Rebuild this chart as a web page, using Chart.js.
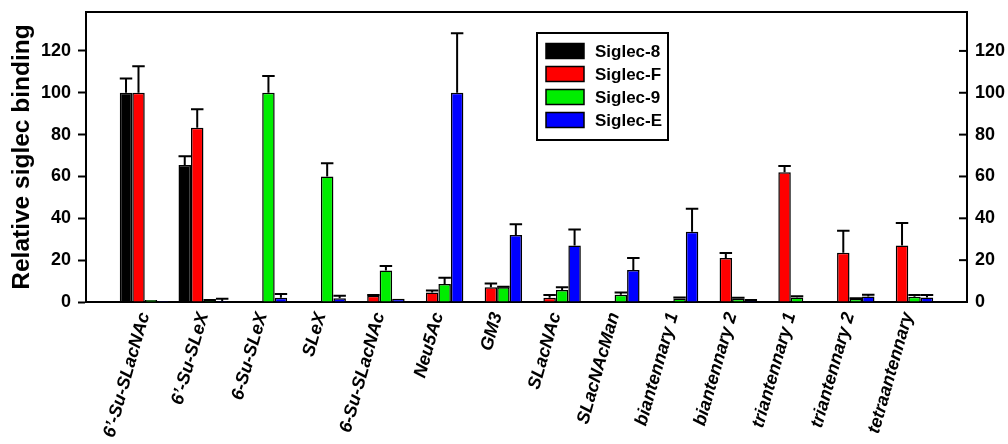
<!DOCTYPE html>
<html lang="en">
<head>
    <meta charset="UTF-8">
    <script src="https://cdn.jsdelivr.net/npm/chart.js"></script>
    <style>
        html, body { margin: 0; padding: 0; background: #ffffff; }
        #wrap { width: 1008px; height: 444px; }
    </style>
    <title>Siglec binding</title>
</head>
<body>

<div id="wrap"><canvas id="myChart"></canvas></div>

<script>

    // glycans on the x axis
    const glycans = ['6’-Su-SLacNAc', '6’-Su-SLeX', '6-Su-SLeX', 'SLeX', '6-Su-SLacNAc', 'Neu5Ac', 'GM3',
        'SLacNAc', 'SLacNAcMan', 'biantennary 1', 'biantennary 2', 'triantennary 1', 'triantennary 2', 'tetraantennary'];

    const seriesNames = ['Siglec-8', 'Siglec-F', 'Siglec-9', 'Siglec-E'];
    const seriesColors = ['#000000', '#ff0000', '#00ee00', '#0000ff'];

    // relative binding (bar height) and upper error (sd)
    const siglec8 = [100, 65.5, 0.3, 0.3, 0.3, 0, 0.5, 0.3, 0, 0, 0, 0, 0, 0];
    const siglec8Err = [6.8, 4.1, 0, 0, 0, 0, 0, 0, 0, 0, 0, 0, 0, 0];
    const siglecF = [100, 83.3, 0.3, 0.2, 3, 4.5, 7, 2, 0.2, 0.3, 21, 62, 23.5, 27];
    const siglecFErr = [12.7, 8.8, 0, 0, 0.3, 1, 1.8, 1.3, 0, 0, 2.4, 3, 10.5, 10.8];
    const siglec9 = [1, 0.5, 100, 60, 15, 8.6, 7, 5.7, 3.5, 1.7, 1.5, 2.2, 1.5, 2.5];
    const siglec9Err = [0, 0.5, 8, 6.3, 2.2, 3, 0.3, 1.3, 1.1, 0.5, 0.5, 0.6, 0.3, 0.8];
    const siglecE = [0.5, 0.5, 2, 1.8, 1.5, 100, 32, 27, 15.3, 33.6, 0.5, 0.3, 2.6, 2.2];
    const siglecEErr = [0, 1, 1.8, 1.2, 0, 28.4, 5.1, 7.6, 5.7, 11, 0.5, 0, 0.9, 1.1];

    const yTicks = [0, 20, 40, 60, 80, 100, 120];
    const yMax = 138.6;

    const values = [siglec8, siglecF, siglec9, siglecE];
    const errors = [siglec8Err, siglecFErr, siglec9Err, siglecEErr];

    // an empty slot at both ends, like the original plot
    const labels = [''].concat(glycans).concat([' ']);

    const FONT = "'Liberation Sans', Arial, sans-serif";

    const framePlugin = {
        id: 'frameAndExtras',
        afterDatasetsDraw: (chart) => {
            const {ctx, scales} = chart;
            const y = scales.y;
            ctx.save();
            ctx.strokeStyle = '#000';
            ctx.lineWidth = 2;
            chart.data.datasets.forEach((ds, di) => {
                const meta = chart.getDatasetMeta(di);
                meta.data.forEach((bar, i) => {
                    const err = ds.errs[i];
                    if (!err) return;
                    const top = y.getPixelForValue(ds.data[i].y + err);
                    const half = bar.width / 2;
                    ctx.beginPath();
                    ctx.moveTo(bar.x, bar.y);
                    ctx.lineTo(bar.x, top);
                    ctx.moveTo(bar.x - half, top);
                    ctx.lineTo(bar.x + half, top);
                    ctx.stroke();
                });
            });
            ctx.restore();
        },
        afterDraw: (chart) => {
            const {ctx, chartArea} = chart;
            const y1 = chart.scales.y1;
            ctx.save();
            ctx.strokeStyle = '#000';
            ctx.lineWidth = 2;
            // top of the frame
            ctx.beginPath();
            ctx.moveTo(chartArea.left - 1, chartArea.top);
            ctx.lineTo(chartArea.right + 1, chartArea.top);
            ctx.stroke();
            // inward ticks on the right axis
            yTicks.forEach(v => {
                const py = y1.getPixelForValue(v);
                ctx.beginPath();
                ctx.moveTo(chartArea.right - 8, py);
                ctx.lineTo(chartArea.right, py);
                ctx.stroke();
            });

            // legend box
            const bx = chartArea.left + 451, by = chartArea.top + 21, bw = 131, bh = 107;
            ctx.fillStyle = '#fff';
            ctx.fillRect(bx, by, bw, bh);
            ctx.strokeRect(bx, by, bw, bh);
            ctx.font = 'bold 17px ' + FONT;
            ctx.textBaseline = 'middle';
            seriesNames.forEach((name, i) => {
                const ry = by + 18 + i * 23;
                ctx.fillStyle = seriesColors[i];
                ctx.fillRect(bx + 9, ry - 7.5, 38, 15);
                ctx.lineWidth = 1.5;
                ctx.strokeRect(bx + 9, ry - 7.5, 38, 15);
                ctx.fillStyle = '#000';
                ctx.fillText(name, bx + 58, ry + 1);
            });
            ctx.restore();
        }
    };

    const ctx = document.getElementById('myChart').getContext('2d');

    new Chart(ctx, {
        type: 'bar',
        data: {
            labels: labels,
            datasets: seriesNames.map((name, k) => ({
                label: name,
                data: glycans.map((g, i) => ({x: g, y: values[k][i]})),
                errs: errors[k],
                backgroundColor: seriesColors[k],
                borderColor: '#000',
                borderWidth: 1.5,
                categoryPercentage: 0.85,
                barPercentage: 1.0,
                yAxisID: 'y'
            }))
        },
        options: {
            responsive: true,
            maintainAspectRatio: false,
            animation: false,
            layout: {padding: {top: 12, left: 0, right: 0, bottom: 0}},
            plugins: {
                legend: {display: false},
                tooltip: {enabled: false}
            },
            scales: {
                x: {
                    offset: false,
                    grid: {display: false, drawTicks: false},
                    border: {display: true, color: '#000', width: 2},
                    ticks: {
                        autoSkip: false,
                        maxRotation: 74,
                        minRotation: 74,
                        padding: 8,
                        color: '#000',
                        font: {family: FONT, size: 18, weight: 'bold', style: 'italic'}
                    },
                    afterFit: (scale) => { scale.height = 142; scale.paddingLeft = 0; scale.paddingRight = 0; }
                },
                y: {
                    position: 'left',
                    min: 0,
                    max: yMax,
                    afterBuildTicks: (scale) => { scale.ticks = yTicks.map(v => ({value: v})); },
                    grid: {drawOnChartArea: false, drawTicks: true, tickLength: 8, tickWidth: 2, tickColor: '#000'},
                    border: {display: true, color: '#000', width: 2},
                    ticks: {
                        padding: 7,
                        color: '#000',
                        font: {family: FONT, size: 18, weight: 'bold'}
                    },
                    title: {
                        display: true,
                        text: 'Relative siglec binding',
                        color: '#000',
                        padding: {top: 8, bottom: 0},
                        font: {family: FONT, size: 24.5, weight: 'bold'}
                    },
                    afterFit: (scale) => { scale.width = 86; scale.paddingTop = 0; scale.paddingBottom = 0; }
                },
                y1: {
                    position: 'right',
                    min: 0,
                    max: yMax,
                    afterBuildTicks: (scale) => { scale.ticks = yTicks.map(v => ({value: v})); },
                    grid: {drawOnChartArea: false, drawTicks: false},
                    border: {display: true, color: '#000', width: 2},
                    ticks: {
                        padding: 8,
                        color: '#000',
                        font: {family: FONT, size: 18, weight: 'bold'}
                    },
                    afterFit: (scale) => { scale.width = 41; scale.paddingTop = 0; scale.paddingBottom = 0; }
                }
            }
        },
        plugins: [framePlugin]
    });

</script>

</body>
</html>
